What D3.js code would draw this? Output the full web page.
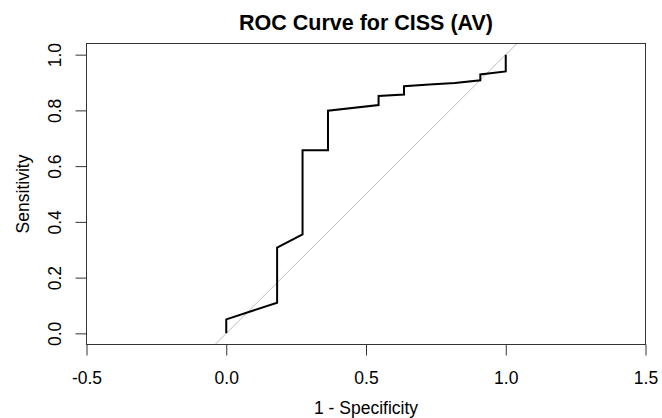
<!DOCTYPE html>
<html lang="en">
<head>
<meta charset="UTF-8">
<title>ROC Curve for CISS (AV)</title>
<script src="https://cdn.jsdelivr.net/npm/d3@7"></script>
<style>
  body { margin: 0; background: #fff; }
  text { font-family: "Liberation Sans", Arial, sans-serif; fill: #000; }
</style>
</head>
<body>
<svg id="chart" width="662" height="418"></svg>
<script>
// ROC points (1 - specificity, sensitivity)
var fpr = [0, 0, 0.182, 0.182, 0.273, 0.273, 0.364, 0.364, 0.545, 0.545, 0.636, 0.636, 0.727, 0.818, 0.909, 0.909, 1.0, 1.0];
var tpr = [0, 0.05, 0.11, 0.308, 0.355, 0.657, 0.657, 0.799, 0.819, 0.852, 0.857, 0.887, 0.893, 0.898, 0.908, 0.929, 0.94, 1.0];
var xTicks = [-0.5, 0, 0.5, 1, 1.5];
var yTicks = [0, 0.2, 0.4, 0.6, 0.8, 1];

var svg = d3.select("#chart");

// asp = 1 plot region, like base R
var x = d3.scaleLinear().domain([-0.5, 1.5]).range([86.5, 645.5]);
var y = d3.scaleLinear().domain([-0.04, 1.04]).range([344.5, 43.5]);
var fmt = function(d) { return d.toFixed(1); }; // plain hyphen minus, as R prints

svg.append("defs").append("clipPath").attr("id", "plotclip")
    .append("rect")
    .attr("x", x(-0.5)).attr("y", y(1.04))
    .attr("width", x(1.5) - x(-0.5)).attr("height", y(-0.04) - y(1.04));

// chance diagonal
svg.append("line")
    .attr("clip-path", "url(#plotclip)")
    .attr("x1", x(-0.04)).attr("y1", y(-0.04))
    .attr("x2", x(1.04)).attr("y2", y(1.04))
    .attr("stroke", "#bdbdbd").attr("stroke-width", 1);

// roc curve
var pts = fpr.map(function(d, i) { return [d, tpr[i]]; });
var line = d3.line().x(function(d) { return x(d[0]); }).y(function(d) { return y(d[1]); });
svg.append("path")
    .datum(pts)
    .attr("d", line)
    .attr("fill", "none")
    .attr("stroke", "#000")
    .attr("stroke-width", 2)
    .attr("stroke-linejoin", "miter");

// box
svg.append("rect")
    .attr("x", x(-0.5)).attr("y", y(1.04))
    .attr("width", x(1.5) - x(-0.5)).attr("height", y(-0.04) - y(1.04))
    .attr("fill", "none").attr("stroke", "#333").attr("stroke-width", 1);

// x axis
var xAxis = svg.append("g")
    .attr("transform", "translate(0," + y(-0.04) + ")")
    .call(d3.axisBottom(x).tickValues(xTicks).tickSize(11).tickSizeOuter(0).tickFormat(fmt));
xAxis.select(".domain").remove();
xAxis.selectAll("line").attr("stroke", "#333");
xAxis.selectAll("text")
    .attr("dy", null).attr("y", 39.5)
    .attr("font-size", 17.5).attr("fill", "#000")
    .style("font-family", "Liberation Sans, Arial, sans-serif");

// y axis
var yAxis = svg.append("g")
    .attr("transform", "translate(" + x(-0.5) + ",0)")
    .call(d3.axisLeft(y).tickValues(yTicks).tickSize(11).tickSizeOuter(0).tickFormat(fmt));
yAxis.select(".domain").remove();
yAxis.selectAll("line").attr("stroke", "#333");
yAxis.selectAll("text")
    .attr("x", null).attr("dy", null)
    .attr("text-anchor", "middle")
    .attr("font-size", 17.5)
    .style("font-family", "Liberation Sans, Arial, sans-serif")
    .attr("transform", "translate(-26,0) rotate(-90)");

// titles
svg.append("text")
    .attr("x", (x(-0.5) + x(1.5)) / 2).attr("y", 29.5)
    .attr("text-anchor", "middle")
    .attr("font-size", 21.5).attr("font-weight", "bold")
    .text("ROC Curve for CISS (AV)");

svg.append("text")
    .attr("x", (x(-0.5) + x(1.5)) / 2).attr("y", 414)
    .attr("text-anchor", "middle")
    .attr("font-size", 17.5)
    .text("1 - Specificity");

svg.append("text")
    .attr("transform", "translate(28.5," + (y(-0.04) + y(1.04)) / 2 + ") rotate(-90)")
    .attr("text-anchor", "middle")
    .attr("font-size", 17.5)
    .text("Sensitivity");
</script>
</body>
</html>
